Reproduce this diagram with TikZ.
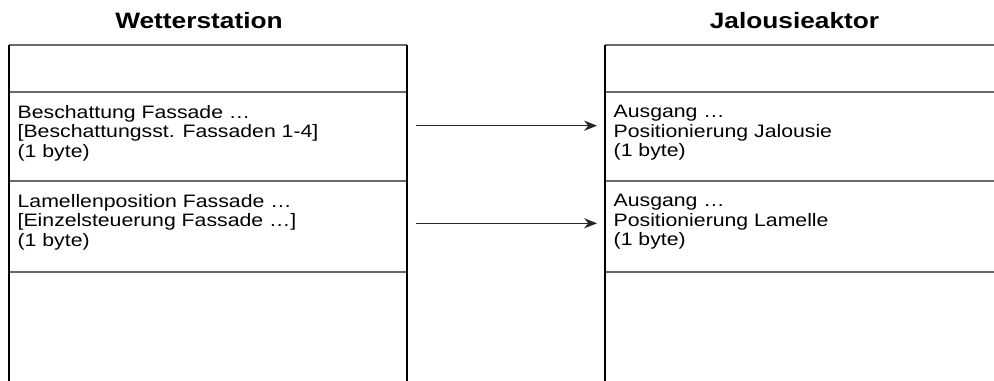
\documentclass[tikz,border=0pt]{standalone}
\usepackage{fontspec}
\setmainfont{Liberation Sans}[FakeStretch=1.18]
\usetikzlibrary{arrows.meta, positioning}
\definecolor{rulegray}{RGB}{105,105,105}

\begin{document}
\begin{tikzpicture}[x=0.75pt, y=-0.75pt,
  cell/.style={rectangle, minimum width=298.5pt, inner sep=0pt, outer sep=0pt},
  rule/.style={rulegray, line width=1pt},
  frame/.style={black, line width=0.8pt},
  celltext/.style={align=left, inner sep=0pt, font=\fontsize{13.5pt}{14.6pt}\selectfont},
  head/.style={font=\fontsize{16.7pt}{20pt}\selectfont\bfseries, inner sep=0pt, anchor=base},
  msg/.style={-{Stealth[length=3.4mm, width=2.7mm, inset=1.1mm]}, black!85, line width=0.8pt}
]
\useasboundingbox (0,0) rectangle (994,381);
\clip (0,0) rectangle (994,381);

\node[head] (wshead) at (199,28.3) {Wetterstation};
\node[head] (jahead) at (794.5,28.3) {Jalousieaktor};

% Wetterstation
\node[cell, minimum height=35.25pt, anchor=north west] (ws0) at (9,45) {};
\node[cell, minimum height=66.75pt, below=0pt of ws0] (ws1) {};
\node[cell, minimum height=68.25pt, below=0pt of ws1] (ws2) {};
\node[cell, minimum height=90pt, below=0pt of ws2] (ws3) {};
\node[celltext, below right=9.8pt and 6.3pt of ws1.north west] (ws1t)
  {Beschattung Fassade …\\{[}Beschattungsst. Fassaden 1-4{]}\\(1 byte)};
\node[celltext, below right=9.8pt and 6.3pt of ws2.north west] (ws2t)
  {Lamellenposition Fassade …\\{[}Einzelsteuerung Fassade …{]}\\(1 byte)};

% Jalousieaktor
\node[cell, minimum height=35.25pt, anchor=north west] (ja0) at (605,45) {};
\node[cell, minimum height=66.75pt, below=0pt of ja0] (ja1) {};
\node[cell, minimum height=68.25pt, below=0pt of ja1] (ja2) {};
\node[cell, minimum height=90pt, below=0pt of ja2] (ja3) {};
\node[celltext, below right=9.8pt and 6.3pt of ja1.north west] (ja1t)
  {Ausgang …\\Positionierung Jalousie\\(1 byte)};
\node[celltext, below right=9.8pt and 6.3pt of ja2.north west] (ja2t)
  {Ausgang …\\Positionierung Lamelle\\(1 byte)};

\draw[rule] (ws0.north west) -- (ws0.north east);
\draw[rule] (ws1.north west) -- (ws1.north east);
\draw[rule] (ws2.north west) -- (ws2.north east);
\draw[rule] (ws3.north west) -- (ws3.north east);
\draw[rule] (ja0.north west) -- (ja0.north east);
\draw[rule] (ja1.north west) -- (ja1.north east);
\draw[rule] (ja2.north west) -- (ja2.north east);
\draw[rule] (ja3.north west) -- (ja3.north east);
\draw[frame] (ws0.north west) -- (ws3.south west);
\draw[frame] (ws0.north east) -- (ws3.south east);
\draw[frame] (ja0.north west) -- (ja3.south west);
\draw[frame] (ja0.north east) -- (ja3.south east);

\draw[msg] ([xshift=6.75pt, yshift=8.1pt]ws1.east) -- ([xshift=-6pt, yshift=8.1pt]ja1.west);
\draw[msg] ([xshift=6.75pt, yshift=2.4pt]ws2.east) -- ([xshift=-6pt, yshift=2.4pt]ja2.west);
\end{tikzpicture}
\end{document}
